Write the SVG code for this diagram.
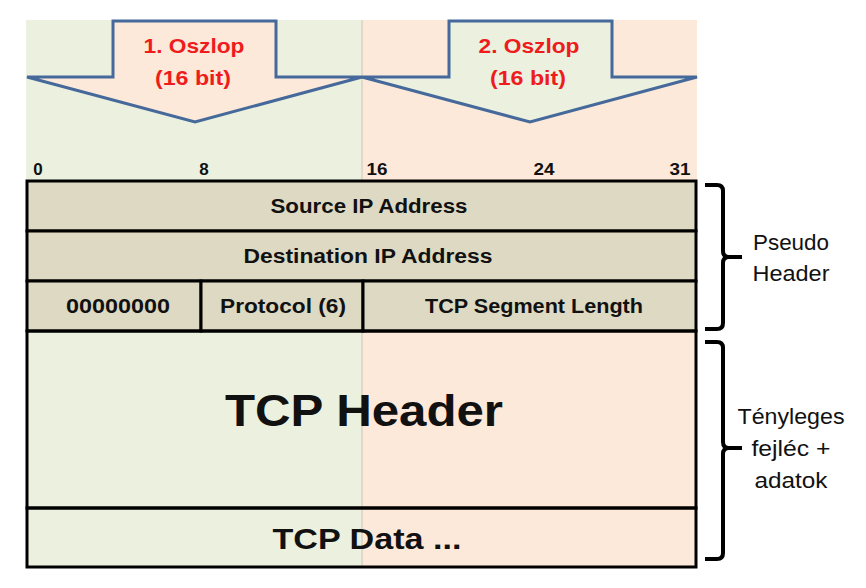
<svg xmlns="http://www.w3.org/2000/svg" width="866" height="588" viewBox="0 0 866 588">
<style>
text{font-family:"Liberation Sans",Arial,sans-serif;font-weight:bold;fill:#111;text-anchor:middle}
.arr{stroke:#46699b;stroke-width:3;stroke-linejoin:miter}
.red{fill:#ee1c1c;font-size:21px}
.bit{font-size:17px}
.cell{fill:#ddd9c3;stroke:#000;stroke-width:3}
.f{font-size:20px}
.brace{fill:none;stroke:#000;stroke-width:4;stroke-linejoin:round}
.side{font-size:22px;font-weight:normal}
</style>
<rect width="866" height="588" fill="#ffffff"/>
<g id="background">
<rect x="26" y="20" width="336" height="547" fill="#ebf1de"/>
<rect x="362" y="20" width="335" height="547" fill="#fde9d9"/>
<line x1="362" y1="20" x2="362" y2="567" stroke="#c8c8b8" stroke-width="1"/>
</g>
<g id="arrow1">
<path class="arr" fill="#fde9d9" d="M27 77 H113 V21 H276 V77 H362 L195 122 Z"/>
<text class="red" x="194" y="53" textLength="101" lengthAdjust="spacingAndGlyphs">1. Oszlop</text>
<text class="red" x="193" y="85" textLength="76" lengthAdjust="spacingAndGlyphs">(16 bit)</text>
</g>
<g id="arrow2">
<path class="arr" fill="#ebf1de" d="M362 77 H449 V21 H612 V77 H697 L530 122 Z"/>
<text class="red" x="529" y="53" textLength="101" lengthAdjust="spacingAndGlyphs">2. Oszlop</text>
<text class="red" x="528" y="85" textLength="76" lengthAdjust="spacingAndGlyphs">(16 bit)</text>
</g>
<g id="bits">
<text class="bit" x="38" y="175">0</text>
<text class="bit" x="204" y="175">8</text>
<text class="bit" x="377" y="175" textLength="21" lengthAdjust="spacingAndGlyphs">16</text>
<text class="bit" x="544" y="175" textLength="21" lengthAdjust="spacingAndGlyphs">24</text>
<text class="bit" x="680" y="175" textLength="21" lengthAdjust="spacingAndGlyphs">31</text>
</g>
<g id="source-ip">
<rect class="cell" x="27" y="181" width="669" height="50"/>
<text class="f" x="369" y="213" textLength="197" lengthAdjust="spacingAndGlyphs">Source IP Address</text>
</g>
<g id="dest-ip">
<rect class="cell" x="27" y="231" width="669" height="50"/>
<text class="f" x="368" y="263" textLength="249" lengthAdjust="spacingAndGlyphs">Destination IP Address</text>
</g>
<g id="zeros">
<rect class="cell" x="27" y="281" width="174" height="50"/>
<text class="f" x="118" y="313" textLength="104" lengthAdjust="spacingAndGlyphs">00000000</text>
</g>
<g id="protocol">
<rect class="cell" x="201" y="281" width="162" height="50"/>
<text class="f" x="283" y="313" textLength="126" lengthAdjust="spacingAndGlyphs">Protocol (6)</text>
</g>
<g id="segment-length">
<rect class="cell" x="363" y="281" width="333" height="50"/>
<text class="f" x="534" y="313" textLength="218" lengthAdjust="spacingAndGlyphs">TCP Segment Length</text>
</g>
<g id="tcp-header">
<rect x="27" y="331" width="669" height="177" fill="none" stroke="#000" stroke-width="3"/>
<text x="364" y="426" font-size="45" textLength="278" lengthAdjust="spacingAndGlyphs">TCP Header</text>
</g>
<g id="tcp-data">
<rect x="27" y="508" width="669" height="59" fill="none" stroke="#000" stroke-width="3"/>
<text x="367" y="549" font-size="30" textLength="189" lengthAdjust="spacingAndGlyphs">TCP Data ...</text>
</g>
<g id="connectors">
<path class="brace" d="M705 185 H717 Q723 185 723 191 V251 Q723 257 729 257 H742 M729 257 Q723 257 723 263 V323 Q723 329 717 329 H705"/>
<path class="brace" d="M705 342 H717 Q723 342 723 348 V442 Q723 448 729 448 H742 M729 448 Q723 448 723 454 V553 Q723 559 717 559 H705"/>
</g>
<g id="pseudo-label">
<text class="side" x="791" y="250" textLength="76" lengthAdjust="spacingAndGlyphs">Pseudo</text>
<text class="side" x="791" y="281" textLength="77" lengthAdjust="spacingAndGlyphs">Header</text>
</g>
<g id="actual-label">
<text class="side" x="791" y="424" textLength="107" lengthAdjust="spacingAndGlyphs">Tényleges</text>
<text class="side" x="791" y="456" textLength="79" lengthAdjust="spacingAndGlyphs">fejléc +</text>
<text class="side" x="791" y="488" textLength="73" lengthAdjust="spacingAndGlyphs">adatok</text>
</g>
</svg>
